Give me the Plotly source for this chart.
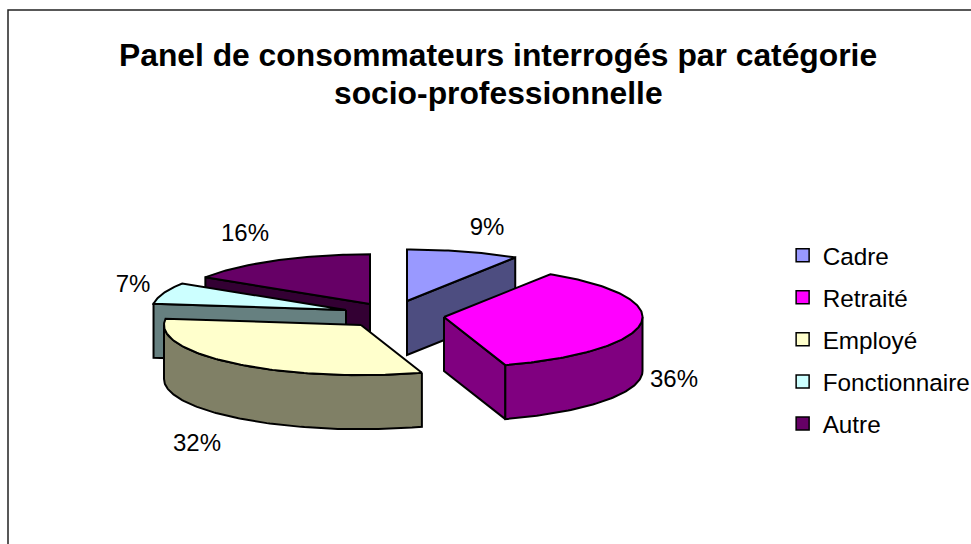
import numpy as np
import plotly.graph_objects as go

categories = ["Cadre", "Retraité", "Employé", "Fonctionnaire", "Autre"]
values = [9, 36, 32, 7, 16]
top_colors = ["#9999FF", "#FF00FF", "#FFFFCC", "#CCFFFF", "#660066"]
side_colors = ["#4D4D80", "#800080", "#808066", "#668080", "#330033"]
title_lines = ["Panel de consommateurs interrogés par catégorie", "socio-professionnelle"]

# Projection of the exploded 3D pie (page pixels)
apex = {"Cadre": (407, 301), "Retraité": (444, 317), "Employé": (361, 325),
        "Fonctionnaire": (346, 310), "Autre": (370, 304)}
radius = {"Cadre": 202, "Retraité": 198.5, "Employé": 197, "Fonctionnaire": 194, "Autre": 195}
label_pos = {"Cadre": (487, 229), "Retraité": (674, 381), "Employé": (197, 445),
             "Fonctionnaire": (133, 286), "Autre": (245, 235)}
FLAT = 0.255
DEPTH = 54
draw_order = ["Autre", "Cadre", "Fonctionnaire", "Employé", "Retraité"]

total = sum(values)
bounds = {}
acc = 0.0
for c, v in zip(categories, values):
    bounds[c] = (acc / total * 360, (acc + v) / total * 360)
    acc += v


def rim(c, a0, a1):
    t = np.radians(np.linspace(a0, a1, max(int(abs(a1 - a0)) + 2, 2)))
    ax, ay = apex[c]
    r = radius[c]
    return ax + r * np.sin(t), ay - r * FLAT * np.cos(t)


fig = go.Figure()


def poly(xs, ys, color):
    fig.add_trace(go.Scatter(x=list(xs) + [xs[0]], y=list(ys) + [ys[0]], mode="lines", fill="toself",
                             fillcolor=color, line=dict(color="black", width=2),
                             hoverinfo="skip", showlegend=False))


for c in draw_order:
    i = categories.index(c)
    a0, a1 = bounds[c]
    ax, ay = apex[c]
    # radial side faces that look toward the viewer
    if c in ("Cadre", "Retraité"):
        x, y = rim(c, a1, a1)
        poly([ax, x[0], x[0], ax], [ay, y[0], y[0] + DEPTH, ay + DEPTH], side_colors[i])
    if c in ("Fonctionnaire", "Autre"):
        x, y = rim(c, a0, a0)
        poly([ax, x[0], x[0], ax], [ay, y[0], y[0] + DEPTH, ay + DEPTH], side_colors[i])
    # outer wall
    w0, w1 = max(a0, 90), min(a1, 270)
    if w1 > w0:
        x, y = rim(c, w0, w1)
        poly(np.r_[x, x[::-1]], np.r_[y, y[::-1] + DEPTH], side_colors[i])
    # top face
    x, y = rim(c, a0, a1)
    poly(np.r_[ax, x], np.r_[ay, y], top_colors[i])

fig.add_trace(go.Scatter(
    x=[label_pos[c][0] for c in categories], y=[label_pos[c][1] for c in categories],
    mode="text", text=[f"{round(v / total * 100)}%" for v in values],
    textfont=dict(family="Liberation Sans", size=24, color="black"),
    hoverinfo="skip", showlegend=False))

for c, col in zip(categories, top_colors):
    fig.add_trace(go.Scatter(x=[None], y=[None], mode="markers", name=c, legendgroup=c,
                             marker=dict(symbol="square", size=13, color=col,
                                         line=dict(color="black", width=1.5))))

fig.update_layout(
    width=971, height=544, margin=dict(l=0, r=0, t=0, b=0, autoexpand=False),
    paper_bgcolor="white", plot_bgcolor="white",
    xaxis=dict(range=[0, 971], visible=False, fixedrange=True),
    yaxis=dict(range=[544, 0], visible=False, fixedrange=True),
    legend=dict(x=0.806, y=0.572, yanchor="top", font=dict(family="Liberation Sans", size=24.3, color="black"),
                tracegroupgap=7.5, bgcolor="rgba(0,0,0,0)"),
    shapes=[dict(type="rect", xref="x", yref="y", x0=8, y0=10, x1=1100, y1=700,
                 line=dict(color="#222222", width=1.5), fillcolor="rgba(0,0,0,0)", layer="below")],
    annotations=[dict(x=498, y=y, xref="x", yref="y", text=f"<b>{line}</b>", showarrow=False,
                      font=dict(family="Liberation Sans", size=31.8, color="black"), align="center")
                 for line, y in zip(title_lines, (55, 93))],
)
fig.write_html("out.html", config={"displayModeBar": False}, post_script="document.body.style.margin='0';")
